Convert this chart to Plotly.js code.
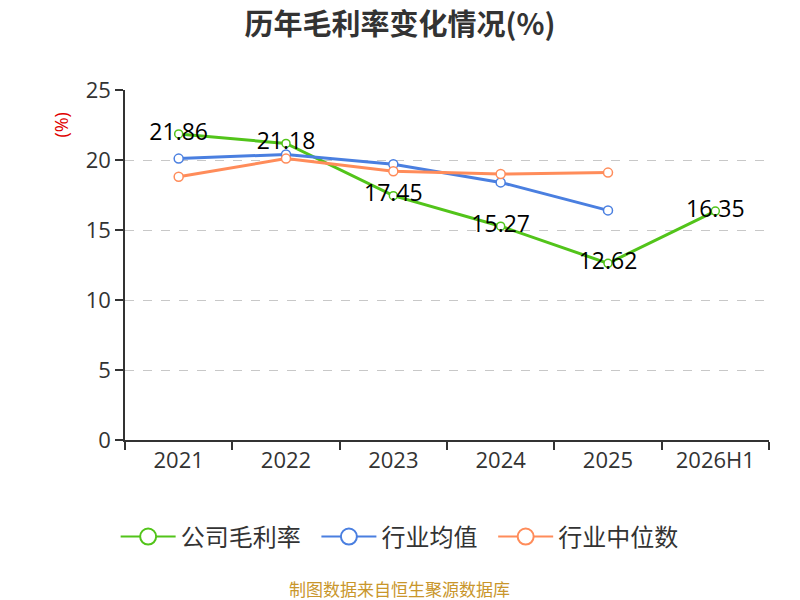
<!DOCTYPE html>
<html>
<head>
<meta charset="utf-8">
<script src="https://cdn.plot.ly/plotly-3.0.1.min.js"></script>
<style>
  body { margin: 0; background: white; }
  #chart { width: 800px; height: 600px; }
</style>
</head>
<body>
<div id="chart"></div>
<script>
// 年份
const years = ['2021', '2022', '2023', '2024', '2025', '2026H1'];
// 公司毛利率
const gongsi = [21.86, 21.18, 17.45, 15.27, 12.62, 16.35];
// 行业均值
const junzhi = [20.1, 20.4, 19.7, 18.4, 16.4];
// 行业中位数
const zhongwei = [18.8, 20.1, 19.2, 19.0, 19.1];

const nombres = ['公司毛利率', '行业均值', '行业中位数'];
const colores = ['#52c41a', '#4a7fe0', '#ff8c5a'];

const fuente = 'Open Sans, Noto Sans CJK SC, sans-serif';
const fuenteCJK = 'Noto Sans CJK SC, sans-serif';

function linea(i, y, size) {
  return {
    type: 'scatter',
    mode: 'lines+markers',
    name: nombres[i],
    x: years.slice(0, y.length),
    y: y,
    line: { color: colores[i], width: 3 },
    marker: { symbol: 'circle', size: size, color: 'white', line: { color: colores[i], width: 1.5 } },
    showlegend: false,
    cliponaxis: false
  };
}

// solo para la leyenda (linea fina, circulo grande)
function leyenda(i) {
  return {
    type: 'scatter',
    mode: 'lines+markers',
    name: nombres[i] + '  ',
    x: [null],
    y: [null],
    line: { color: colores[i], width: 2 },
    marker: { symbol: 'circle', size: 16, color: 'white', line: { color: colores[i], width: 2 } }
  };
}

const data = [
  linea(0, gongsi, 8),
  linea(1, junzhi, 9),
  linea(2, zhongwei, 9),
  {
    type: 'scatter',
    mode: 'text',
    x: years,
    y: gongsi,
    text: gongsi.map(v => v.toFixed(2)),
    textposition: 'middle center',
    textfont: { family: fuente, size: 23, color: '#000' },
    showlegend: false,
    hoverinfo: 'skip',
    cliponaxis: false
  },
  leyenda(0), leyenda(1), leyenda(2)
];

const layout = {
  width: 800,
  height: 600,
  margin: { t: 90, l: 125, r: 31, b: 160 },
  paper_bgcolor: 'white',
  plot_bgcolor: 'white',
  font: { family: fuente, color: '#333' },
  title: {
    text: '<b>历年毛利率变化情况(%)</b>',
    font: { family: fuenteCJK, size: 29, color: '#333' },
    x: 0.5, xanchor: 'center', y: 0.958, yanchor: 'middle'
  },
  xaxis: {
    type: 'category',
    tickson: 'boundaries',
    ticks: 'outside',
    ticklen: 8,
    tickcolor: '#333',
    tickwidth: 1.5,
    showline: true,
    linecolor: '#333',
    linewidth: 1.5,
    showgrid: false,
    tickfont: { family: fuente, size: 22, color: '#333' },
    range: [-0.5, 5.5]
  },
  yaxis: {
    range: [0, 25],
    dtick: 5,
    ticks: 'outside',
    ticklen: 8,
    tickcolor: '#333',
    tickwidth: 1.5,
    showline: true,
    linecolor: '#333',
    linewidth: 1.5,
    showgrid: true,
    gridcolor: '#c8c8c8',
    griddash: 'dash',
    gridwidth: 1.2,
    zeroline: false,
    tickfont: { family: fuente, size: 22, color: '#333' }
  },
  showlegend: true,
  legend: {
    orientation: 'h',
    x: 0.435, xanchor: 'center',
    y: -0.277, yanchor: 'middle',
    font: { family: fuenteCJK, size: 24, color: '#333' },
    itemwidth: 55
  },
  annotations: [
    {
      text: '(%)', xref: 'paper', yref: 'paper',
      x: -0.1, y: 0.9, xanchor: 'center', yanchor: 'middle',
      textangle: -90, showarrow: false,
      font: { family: fuente, size: 18, color: '#e00000' }
    },
    {
      text: '制图数据来自恒生聚源数据库', xref: 'paper', yref: 'paper',
      x: 0.427, y: -0.423, xanchor: 'center', yanchor: 'middle',
      showarrow: false,
      font: { family: fuenteCJK, size: 17, color: '#c9962b' }
    }
  ]
};

Plotly.newPlot('chart', data, layout, { displayModeBar: false });
</script>
</body>
</html>
